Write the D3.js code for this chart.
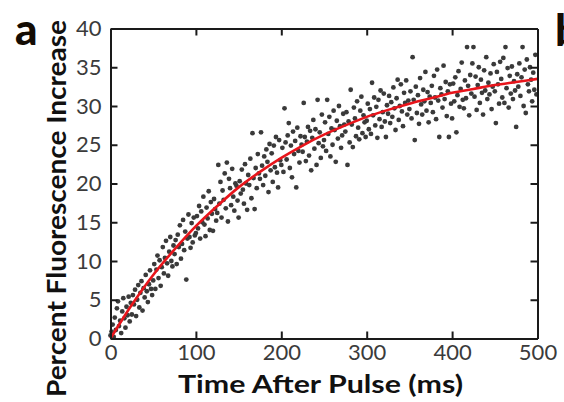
<!DOCTYPE html>
<html><head><meta charset="utf-8">
<script src="https://cdn.jsdelivr.net/npm/d3@7"></script>
<style>html,body{margin:0;padding:0;background:#fff;}svg{display:block;}</style>
</head><body>
<svg id="chart" width="564" height="402"></svg>
<script>
// ---- data ----
const xTicks = [0, 100, 200, 300, 400, 500];
const yTicks = [0, 5, 10, 15, 20, 25, 30, 35, 40];
const sampleStep = 1.25; // ms between recorded samples
const fluorescence = [
 0.4,0.9,1.8,0.2,2.7,1.1,3.9,4.8,1.6,2.3,0.7,3.5,5.2,2.6,1.4,4.1,3.0,5.4,2.2,4.6,
 3.1,5.6,4.4,6.3,2.9,5.0,6.9,4.0,5.9,7.4,3.6,6.5,5.3,8.2,6.1,4.7,7.0,8.8,6.4,5.6,
 7.5,9.6,6.4,8.9,10.7,7.8,10.1,6.8,9.2,11.8,8.4,10.4,12.6,9.7,8.1,11.2,13.1,10.0,9.3,12.0,
 10.9,12.7,9.6,13.4,11.8,14.6,10.3,12.2,15.3,11.4,13.8,7.6,12.9,16.0,13.1,11.7,14.9,12.4,15.6,13.3,
 13.6,15.8,14.2,17.1,12.9,16.4,15.0,18.3,14.7,13.2,16.9,15.5,19.0,14.0,17.6,16.1,13.9,18.0,16.7,15.2,
 16.2,22.4,17.4,20.2,15.6,19.1,17.9,21.3,16.8,22.7,15.1,20.6,19.4,17.2,21.9,18.3,16.5,20.0,19.7,17.8,
 15.6,20.3,18.7,21.8,19.2,17.4,22.5,20.0,16.6,21.1,19.8,23.2,18.1,26.5,20.7,16.7,22.0,19.4,23.8,21.3,
 20.6,26.6,22.3,19.8,23.5,21.0,24.4,22.8,18.9,25.1,21.7,23.9,20.2,24.9,22.1,26.0,21.4,19.5,25.6,23.0,
 22.4,24.6,21.5,29.7,25.3,23.1,26.2,27.8,22.0,24.9,20.8,26.7,23.8,25.5,19.5,27.2,24.2,22.7,26.1,25.0,
 24.1,30.4,26.0,22.9,25.4,27.3,23.6,26.8,21.7,25.9,28.2,24.5,27.0,22.4,30.8,25.2,26.6,23.3,28.9,24.8,
 25.6,27.9,24.2,30.8,26.4,28.6,23.5,27.1,25.0,29.4,26.9,22.8,28.1,25.8,30.0,27.4,24.6,26.2,29.0,27.6,
 26.7,29.2,22.4,28.0,25.3,32.1,27.6,24.7,29.8,28.4,26.1,30.6,27.2,25.7,29.4,31.2,26.5,28.8,27.9,26.0,
 28.1,30.3,27.0,29.6,26.4,33.0,28.8,31.1,27.5,29.9,25.9,30.8,28.3,32.0,27.3,29.2,31.6,28.0,26.0,30.1,
 29.0,31.3,27.8,30.5,28.6,32.4,29.7,26.9,31.0,33.4,28.2,30.0,32.8,29.3,27.4,31.7,30.4,33.3,28.9,30.7,
 29.6,31.9,28.4,36.3,30.8,25.6,32.5,29.1,31.4,27.7,33.6,30.2,28.9,32.1,30.6,34.4,29.4,31.8,27.9,31.2,
 30.4,32.6,29.2,33.9,31.1,28.3,34.7,30.7,26.0,32.3,31.5,29.8,35.2,30.9,33.1,28.7,31.9,26.0,32.8,30.3,
 28.4,32.9,30.6,33.7,26.6,31.4,34.5,29.9,32.2,35.6,30.8,29.7,33.3,31.0,37.6,32.6,28.8,34.0,31.6,35.5,
 37.6,31.2,33.8,29.5,32.7,35.0,30.4,33.4,31.7,28.9,34.6,32.0,36.3,30.9,33.0,31.5,34.2,29.6,32.5,35.4,
 31.9,27.8,34.4,32.8,30.3,35.7,33.5,31.1,36.2,30.4,37.6,32.3,34.9,29.8,33.9,31.6,35.1,30.9,33.2,32.0,
 27.3,34.1,32.5,35.5,31.3,33.7,37.6,30.0,34.7,29.1,36.0,32.8,31.9,35.0,33.4,30.6,34.3,32.1,36.6,31.5
];
const fitTimes  = [0,25,50,75,100,125,150,175,200,225,250,275,300,325,350,375,400,425,450,475,500];
const fitValues = [0,4.35,8.2,11.5,14.5,17.1,19.5,21.5,23.3,24.9,26.3,27.5,28.6,29.5,30.3,31.0,31.7,32.2,32.7,33.1,33.5];

// ---- drawing ----
const svg = d3.select("#chart");
const L = 110.5, R = 537.5, T = 28.5, B = 338.5;
const x = d3.scaleLinear().domain([0, 500]).range([L, R]);
const y = d3.scaleLinear().domain([0, 40]).range([B, T]);
const tickFont = "Lato, 'Open Sans', sans-serif";

const points = fluorescence.map((v, i) => ({t: i * sampleStep, v}));

svg.append("g").selectAll("circle").data(points).join("circle")
  .attr("cx", d => x(d.t)).attr("cy", d => y(d.v)).attr("r", 2.4)
  .attr("fill", "#3a3a3a");

const line = d3.line().x((d, i) => x(fitTimes[i])).y(d => y(d)).curve(d3.curveMonotoneX);
svg.append("path").datum(fitValues).attr("d", line)
  .attr("fill", "none").attr("stroke", "#e8151b").attr("stroke-width", 2.6);

function styleAxis(g) {
  g.select(".domain").attr("stroke", "#1a1a1a").attr("stroke-width", 2);
  g.selectAll(".tick line").attr("stroke", "#1a1a1a").attr("stroke-width", 2);
  g.selectAll("text").attr("fill", "#3b3b3b").style("font-family", tickFont).style("font-size", "22px");
}

svg.append("g").attr("transform", `translate(0,${B})`)
  .call(d3.axisBottom(x).tickValues(xTicks).tickSizeInner(-7).tickSizeOuter(0).tickPadding(6))
  .call(styleAxis);
svg.append("g").attr("transform", `translate(${L},0)`)
  .call(d3.axisLeft(y).tickValues(yTicks).tickSizeInner(-7).tickSizeOuter(0).tickPadding(9))
  .call(styleAxis);
svg.append("g").attr("transform", `translate(0,${T})`)
  .call(d3.axisTop(x).tickValues(xTicks.slice(1, -1)).tickSizeInner(-7).tickSizeOuter(0).tickFormat(""))
  .call(styleAxis);
svg.append("g").attr("transform", `translate(${R},0)`)
  .call(d3.axisRight(y).tickValues(yTicks.slice(1, -1)).tickSizeInner(-7).tickSizeOuter(0).tickFormat(""))
  .call(styleAxis);

svg.append("text").attr("x", 320.5).attr("y", 393)
  .attr("text-anchor", "middle").attr("fill", "#111")
  .attr("textLength", 285).attr("lengthAdjust", "spacingAndGlyphs")
  .style("font-family", tickFont).style("font-weight", "bold").style("font-size", "25px")
  .text("Time After Pulse (ms)");

svg.append("text").attr("transform", "translate(66,208.5) rotate(-90)")
  .attr("text-anchor", "middle").attr("fill", "#111")
  .attr("textLength", 377).attr("lengthAdjust", "spacingAndGlyphs")
  .style("font-family", tickFont).style("font-weight", "bold").style("font-size", "26px")
  .text("Percent Fluorescence Increase");

svg.append("text").attr("x", 15).attr("y", 45).attr("fill", "#140c04")
  .style("font-family", tickFont).style("font-weight", "900").style("font-size", "44px")
  .text("a");
svg.append("text").attr("x", 555).attr("y", 46).attr("fill", "#140c04")
  .style("font-family", tickFont).style("font-weight", "900").style("font-size", "44px")
  .text("b");
</script>
</body></html>
